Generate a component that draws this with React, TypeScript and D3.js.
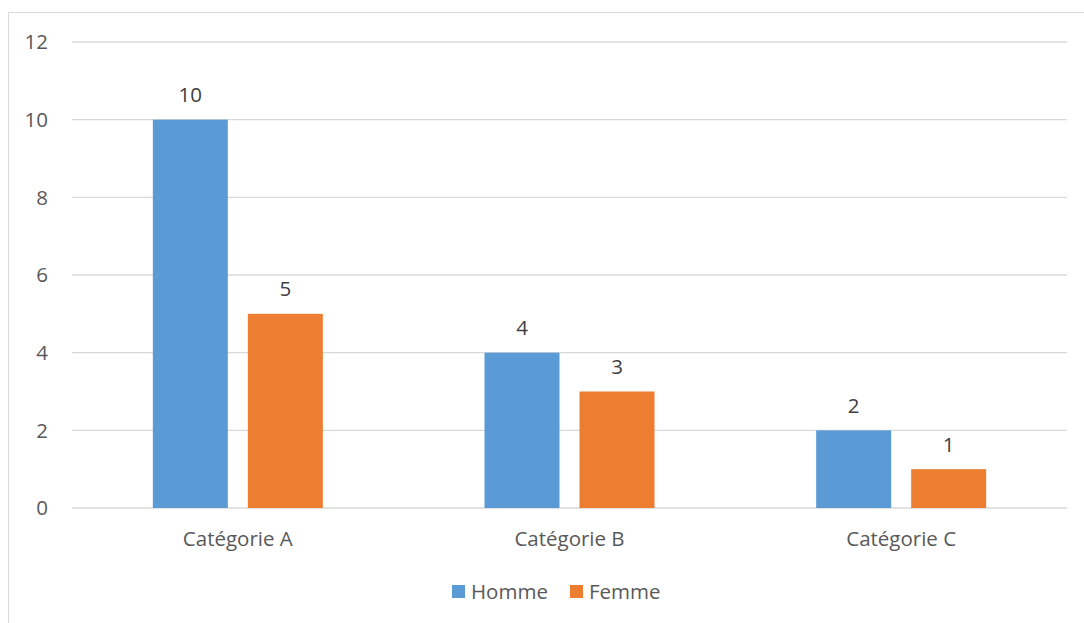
import React, { useEffect, useRef } from 'react';
import * as d3 from 'd3';

const categories = ['Catégorie A', 'Catégorie B', 'Catégorie C'];
const homme = [10, 4, 2];
const femme = [5, 3, 1];
const seriesNames = ['Homme', 'Femme'];
const yTicks = [0, 2, 4, 6, 8, 10, 12];

const App = () => {
  const ref = useRef<SVGSVGElement | null>(null);

  useEffect(() => {
    const svg = d3.select(ref.current);
    svg.selectAll('*').remove();

    const width = 1084;
    const height = 623;
    const plot = { left: 72, right: 1067, top: 42, bottom: 508 };
    const font = "'Open Sans', sans-serif";
    const fs = 20.5;
    const textColor = '#595959';
    const colors = ['#5B9BD5', '#ED7D31'];

    // outer chart frame
    svg.append('rect')
      .attr('x', 8.5).attr('y', 12.5)
      .attr('width', width).attr('height', height)
      .attr('fill', '#fff')
      .attr('stroke', '#D9D9D9');

    const x = d3.scaleBand()
      .domain(categories)
      .range([plot.left, plot.right]);

    const y = d3.scaleLinear()
      .domain([0, 12])
      .range([plot.bottom, plot.top]);

    // gridlines
    svg.append('g')
      .selectAll('line')
      .data(yTicks)
      .enter()
      .append('line')
      .attr('x1', plot.left).attr('x2', plot.right)
      .attr('y1', d => y(d)).attr('y2', d => y(d))
      .attr('stroke', '#D9D9D9')
      .attr('stroke-width', 1.3);

    // y labels
    svg.append('g')
      .selectAll('text')
      .data(yTicks)
      .enter()
      .append('text')
      .attr('x', 48)
      .attr('y', d => y(d))
      .attr('dy', '0.36em')
      .attr('text-anchor', 'end')
      .attr('font-family', font)
      .attr('font-size', fs)
      .attr('fill', textColor)
      .text(d => d);

    const barW = 75;
    const gap = 20;
    const rows = categories.flatMap((c, i) => [
      { c, s: 0, v: homme[i] },
      { c, s: 1, v: femme[i] },
    ]);
    const bx = (d: { c: string; s: number }) => {
      const mid = (x(d.c) as number) + x.bandwidth() / 2;
      return d.s === 0 ? mid - gap / 2 - barW : mid + gap / 2;
    };

    svg.append('g')
      .selectAll('rect')
      .data(rows)
      .enter()
      .append('rect')
      .attr('x', d => bx(d))
      .attr('y', d => y(d.v))
      .attr('width', barW)
      .attr('height', d => y(0) - y(d.v))
      .attr('fill', d => colors[d.s]);

    // value labels
    svg.append('g')
      .selectAll('text')
      .data(rows)
      .enter()
      .append('text')
      .attr('x', d => bx(d) + barW / 2)
      .attr('y', d => y(d.v) - 25)
      .attr('dy', '0.36em')
      .attr('text-anchor', 'middle')
      .attr('font-family', font)
      .attr('font-size', fs)
      .attr('fill', '#404040')
      .text(d => d.v);

    // category labels
    svg.append('g')
      .selectAll('text')
      .data(categories)
      .enter()
      .append('text')
      .attr('x', d => (x(d) as number) + x.bandwidth() / 2)
      .attr('y', 539)
      .attr('dy', '0.36em')
      .attr('text-anchor', 'middle')
      .attr('font-family', font)
      .attr('font-size', fs)
      .attr('fill', textColor)
      .text(d => d);

    // legend
    const legend = svg.append('g');
    const legendX = [452, 570];
    seriesNames.forEach((name, i) => {
      legend.append('rect')
        .attr('x', legendX[i]).attr('y', 585)
        .attr('width', 13).attr('height', 13)
        .attr('fill', colors[i]);
      legend.append('text')
        .attr('x', legendX[i] + 19)
        .attr('y', 592)
        .attr('dy', '0.36em')
        .attr('font-family', font)
        .attr('font-size', fs)
        .attr('fill', textColor)
        .text(name);
    });
  }, []);

  return (
    <svg
      ref={ref}
      width={1084}
      height={623}
      style={{ position: 'absolute', left: 0, top: 0, display: 'block' }}
    />
  );
};

export default App;
